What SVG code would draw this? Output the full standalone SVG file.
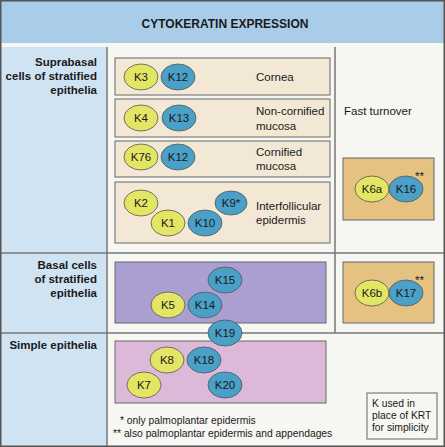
<svg xmlns="http://www.w3.org/2000/svg" width="445" height="447" viewBox="0 0 445 447">
<style>
text{font-family:"Liberation Sans",Arial,sans-serif;fill:#1a1a1a}
.h{font-size:12px;font-weight:bold}
.lab{font-size:11.5px;font-weight:bold;text-anchor:end}
.t{font-size:11.5px}
.k{font-size:11.5px;text-anchor:middle;dominant-baseline:central}
.y{fill:#e3e665;stroke:#555;stroke-width:0.8}
.b{fill:#4aa0c6;stroke:#555;stroke-width:0.8}
.bx{fill:#f3e7d5;stroke:#666;stroke-width:1}
.div{stroke:#777;stroke-width:1.5;fill:none}
.fn{font-size:10.3px}
</style>
<rect x="0" y="0" width="445" height="447" fill="#f6f6f2"/>
<rect x="0" y="0" width="445" height="43" fill="#a9cde9"/>
<rect x="0" y="47" width="107" height="400" fill="#cfe3f3"/>
<text class="h" x="225" y="28" text-anchor="middle">CYTOKERATIN EXPRESSION</text>
<g id="grid">
<line class="div" x1="107" y1="47" x2="107" y2="447"/>
<line class="div" x1="335" y1="47" x2="335" y2="333"/>
<line class="div" x1="0" y1="253" x2="445" y2="253"/>
<line class="div" x1="0" y1="333" x2="445" y2="333"/>
<rect x="0.75" y="0.75" width="443.5" height="445.5" fill="none" stroke="#555" stroke-width="1.5"/>
</g>
<g id="rowlabels">
<text class="lab" x="97" y="66">Suprabasal</text>
<text class="lab" x="97" y="80">cells of stratified</text>
<text class="lab" x="97" y="94">epithelia</text>
<text class="lab" x="97" y="269">Basal cells</text>
<text class="lab" x="97" y="283">of stratified</text>
<text class="lab" x="97" y="297">epithelia</text>
<text class="lab" x="97" y="349">Simple epithelia</text>
</g>
<g id="cornea">
<rect class="bx" x="115" y="58" width="215" height="37"/>
<ellipse class="y" cx="141" cy="77" rx="17" ry="13"/><text class="k" x="141" y="77">K3</text>
<ellipse class="b" cx="178" cy="77" rx="17" ry="13"/><text class="k" x="178" y="77">K12</text>
<text class="t" x="256" y="81">Cornea</text>
</g>
<g id="noncornified">
<rect class="bx" x="115" y="99" width="215" height="38"/>
<ellipse class="y" cx="141" cy="118" rx="17" ry="13"/><text class="k" x="141" y="118">K4</text>
<ellipse class="b" cx="179" cy="118" rx="17" ry="13"/><text class="k" x="179" y="118">K13</text>
<text class="t" x="256" y="115">Non-cornified</text>
<text class="t" x="256" y="130">mucosa</text>
</g>
<g id="cornified">
<rect class="bx" x="115" y="141" width="215" height="36"/>
<ellipse class="y" cx="141" cy="157" rx="17" ry="13"/><text class="k" x="141" y="157">K76</text>
<ellipse class="b" cx="178" cy="157" rx="17" ry="13"/><text class="k" x="178" y="157">K12</text>
<text class="t" x="256" y="156">Cornified</text>
<text class="t" x="256" y="170">mucosa</text>
</g>
<g id="interfollicular">
<rect class="bx" x="115" y="182" width="215" height="61"/>
<ellipse class="y" cx="141" cy="203" rx="17" ry="13"/><text class="k" x="141" y="203">K2</text>
<ellipse class="y" cx="168" cy="223" rx="17" ry="13"/><text class="k" x="168" y="223">K1</text>
<ellipse class="b" cx="205" cy="223" rx="17" ry="13"/><text class="k" x="205" y="223">K10</text>
<ellipse class="b" cx="231" cy="203" rx="16" ry="12"/><text class="k" x="231" y="203">K9*</text>
<text class="t" x="256" y="210">Interfollicular</text>
<text class="t" x="256" y="224">epidermis</text>
</g>
<text class="t" x="344" y="115">Fast turnover</text>
<g id="fast1">
<rect x="343" y="158" width="91" height="62" fill="#e6c282" stroke="#666" stroke-width="1"/>
<ellipse class="y" cx="372" cy="189" rx="17" ry="13"/><text class="k" x="372" y="189">K6a</text>
<ellipse class="b" cx="406" cy="189" rx="17" ry="13"/><text class="k" x="406" y="189">K16</text>
<text class="t" x="415" y="180">**</text>
</g>
<g id="basal">
<rect x="115" y="262" width="211" height="61" fill="#ab9fd1" stroke="#666" stroke-width="1"/>
<ellipse class="b" cx="225" cy="280" rx="17" ry="13"/><text class="k" x="225" y="280">K15</text>
<ellipse class="y" cx="168" cy="305" rx="17" ry="13"/><text class="k" x="168" y="305">K5</text>
<ellipse class="b" cx="205" cy="305" rx="17" ry="13"/><text class="k" x="205" y="305">K14</text>
</g>
<g id="fast2">
<rect x="343" y="262" width="91" height="61" fill="#e6c282" stroke="#666" stroke-width="1"/>
<ellipse class="y" cx="372" cy="293" rx="17" ry="13"/><text class="k" x="372" y="293">K6b</text>
<ellipse class="b" cx="406" cy="293" rx="17" ry="13"/><text class="k" x="406" y="293">K17</text>
<text class="t" x="415" y="284">**</text>
</g>
<g id="simple">
<rect x="115" y="341" width="211" height="62" fill="#dcb8d9" stroke="#666" stroke-width="1"/>
<ellipse class="y" cx="167" cy="360" rx="17" ry="13"/><text class="k" x="167" y="360">K8</text>
<ellipse class="b" cx="204" cy="360" rx="17" ry="13"/><text class="k" x="204" y="360">K18</text>
<ellipse class="y" cx="144" cy="385" rx="17" ry="13"/><text class="k" x="144" y="385">K7</text>
<ellipse class="b" cx="225" cy="385" rx="17" ry="13"/><text class="k" x="225" y="385">K20</text>
</g>
<g id="k19">
<ellipse class="b" cx="225" cy="333" rx="17" ry="13"/><text class="k" x="225" y="333">K19</text>
</g>
<g id="footnotes">
<text class="fn" x="120" y="424">* only palmoplantar epidermis</text>
<text class="fn" x="113" y="437">** also palmoplantar epidermis and appendages</text>
</g>
<g id="note">
<rect x="367" y="393" width="70" height="46" fill="none" stroke="#666" stroke-width="1"/>
<text class="fn" x="372" y="407">K used in</text>
<text class="fn" x="372" y="419">place of KRT</text>
<text class="fn" x="372" y="431">for simplicity</text>
</g>
</svg>
